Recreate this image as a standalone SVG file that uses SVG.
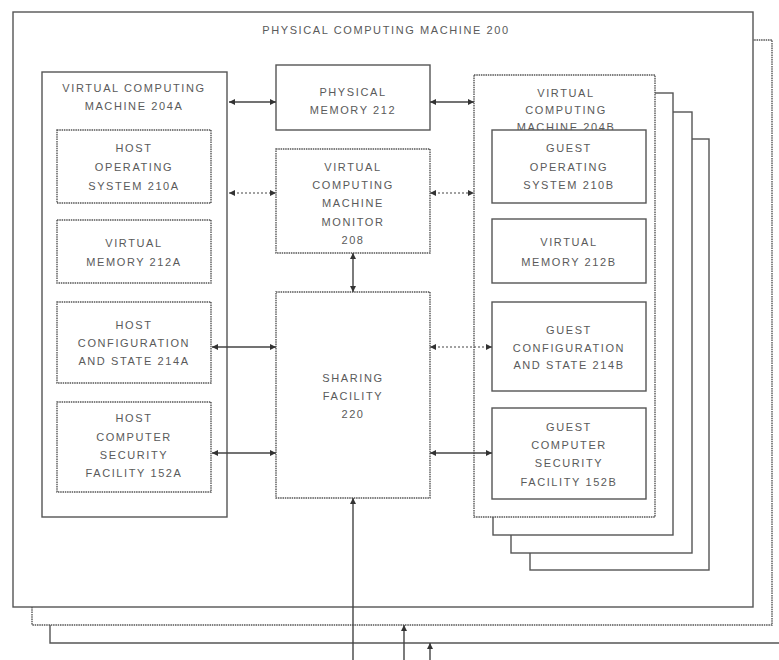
<svg xmlns="http://www.w3.org/2000/svg" width="779" height="660" viewBox="0 0 779 660">
  <style>
    .box { fill: #fff; stroke: #555; stroke-width: 1.4; }
    .dot { fill: #fff; stroke: #555; stroke-width: 1.4; stroke-dasharray: 1.5 0.8; }
    .lbl { font-family: "Liberation Sans", Arial, sans-serif; font-size: 11px; letter-spacing: 1.6px; fill: #5a5a5a; text-anchor: middle; }
    .solid { stroke: #444; stroke-width: 1.4; fill: none; }
    .dash { stroke: #444; stroke-width: 1.2; fill: none; stroke-dasharray: 2 2; }
  </style>
  <defs>
    <marker id="ah" viewBox="0 0 10 10" refX="10" refY="5" markerWidth="6" markerHeight="6" markerUnits="userSpaceOnUse" orient="auto-start-reverse">
      <path d="M0,0 L10,5 L0,10 z" fill="#333"/>
    </marker>
  </defs>

  <!-- stacked physical machines (back to front) -->
  <g id="pcm-stack-3">
    <path class="box" d="M50,623 L50,643 L779,643" fill="none"/>
  </g>
  <g id="pcm-stack-2">
    <rect class="dot" x="32" y="40" width="740" height="585"/>
  </g>
  <g id="pcm-200">
    <rect class="box" x="13" y="12" width="740" height="595"/>
    <text class="lbl" x="386" y="34">PHYSICAL COMPUTING MACHINE 200</text>
  </g>

  <!-- virtual computing machine 204A -->
  <g id="vcm-204a">
    <rect class="box" x="42" y="72" width="185" height="445"/>
    <text class="lbl" x="134" y="92">VIRTUAL COMPUTING</text>
    <text class="lbl" x="134" y="110">MACHINE 204A</text>
  </g>
  <g id="host-os-210a">
    <rect class="dot" x="57" y="130" width="154" height="73"/>
    <text class="lbl" x="134" y="152">HOST</text>
    <text class="lbl" x="134" y="171">OPERATING</text>
    <text class="lbl" x="134" y="190">SYSTEM 210A</text>
  </g>
  <g id="vmem-212a">
    <rect class="dot" x="57" y="220" width="154" height="63"/>
    <text class="lbl" x="134" y="247">VIRTUAL</text>
    <text class="lbl" x="134" y="266">MEMORY 212A</text>
  </g>
  <g id="host-config-214a">
    <rect class="dot" x="57" y="302" width="154" height="81"/>
    <text class="lbl" x="134" y="329">HOST</text>
    <text class="lbl" x="134" y="347">CONFIGURATION</text>
    <text class="lbl" x="134" y="365">AND STATE 214A</text>
  </g>
  <g id="host-security-152a">
    <rect class="dot" x="57" y="402" width="154" height="90"/>
    <text class="lbl" x="134" y="422">HOST</text>
    <text class="lbl" x="134" y="441">COMPUTER</text>
    <text class="lbl" x="134" y="459">SECURITY</text>
    <text class="lbl" x="134" y="477">FACILITY 152A</text>
  </g>

  <!-- center column -->
  <g id="phys-mem-212">
    <rect class="box" x="276" y="65" width="154" height="65"/>
    <text class="lbl" x="353" y="96">PHYSICAL</text>
    <text class="lbl" x="353" y="114">MEMORY 212</text>
  </g>
  <g id="vcm-monitor-208">
    <rect class="dot" x="276" y="149" width="154" height="104"/>
    <text class="lbl" x="353" y="171">VIRTUAL</text>
    <text class="lbl" x="353" y="189">COMPUTING</text>
    <text class="lbl" x="353" y="207">MACHINE</text>
    <text class="lbl" x="353" y="226">MONITOR</text>
    <text class="lbl" x="353" y="244">208</text>
  </g>
  <g id="sharing-220">
    <rect class="dot" x="276" y="292" width="154" height="206"/>
    <text class="lbl" x="353" y="382">SHARING</text>
    <text class="lbl" x="353" y="400">FACILITY</text>
    <text class="lbl" x="353" y="418">220</text>
  </g>

  <!-- virtual computing machines 204B stack -->
  <g id="vcm-204b-stack">
    <rect class="box" x="530" y="139" width="179" height="431"/>
    <rect class="box" x="511" y="112" width="181" height="441"/>
    <rect class="box" x="493" y="93" width="180" height="442"/>
  </g>
  <g id="vcm-204b">
    <rect class="dot" x="474" y="75" width="181" height="442"/>
    <text class="lbl" x="566" y="97">VIRTUAL</text>
    <text class="lbl" x="566" y="114">COMPUTING</text>
    <text class="lbl" x="566" y="131">MACHINE 204B</text>
  </g>
  <g id="guest-os-210b">
    <rect class="box" x="492" y="130" width="154" height="73"/>
    <text class="lbl" x="569" y="152">GUEST</text>
    <text class="lbl" x="569" y="171">OPERATING</text>
    <text class="lbl" x="569" y="189">SYSTEM 210B</text>
  </g>
  <g id="vmem-212b">
    <rect class="box" x="492" y="219" width="154" height="64"/>
    <text class="lbl" x="569" y="246">VIRTUAL</text>
    <text class="lbl" x="569" y="266">MEMORY 212B</text>
  </g>
  <g id="guest-config-214b">
    <rect class="box" x="492" y="302" width="154" height="89"/>
    <text class="lbl" x="569" y="334">GUEST</text>
    <text class="lbl" x="569" y="352">CONFIGURATION</text>
    <text class="lbl" x="569" y="369">AND STATE 214B</text>
  </g>
  <g id="guest-security-152b">
    <rect class="box" x="492" y="408" width="154" height="91"/>
    <text class="lbl" x="569" y="431">GUEST</text>
    <text class="lbl" x="569" y="449">COMPUTER</text>
    <text class="lbl" x="569" y="467">SECURITY</text>
    <text class="lbl" x="569" y="486">FACILITY 152B</text>
  </g>

  <!-- connectors -->
  <g id="connectors">
    <line class="solid" x1="229" y1="102" x2="276" y2="102" marker-start="url(#ah)" marker-end="url(#ah)"/>
    <line class="dash" x1="229" y1="193" x2="276" y2="193" marker-start="url(#ah)" marker-end="url(#ah)"/>
    <line class="solid" x1="212" y1="347" x2="276" y2="347" marker-start="url(#ah)" marker-end="url(#ah)"/>
    <line class="solid" x1="212" y1="453" x2="276" y2="453" marker-start="url(#ah)" marker-end="url(#ah)"/>
    <line class="solid" x1="430" y1="102" x2="474" y2="102" marker-start="url(#ah)" marker-end="url(#ah)"/>
    <line class="dash" x1="430" y1="193" x2="474" y2="193" marker-start="url(#ah)" marker-end="url(#ah)"/>
    <line class="dash" x1="430" y1="347" x2="492" y2="347" marker-start="url(#ah)" marker-end="url(#ah)"/>
    <line class="solid" x1="430" y1="453" x2="492" y2="453" marker-start="url(#ah)" marker-end="url(#ah)"/>
    <line class="solid" x1="353" y1="253" x2="353" y2="292" marker-start="url(#ah)" marker-end="url(#ah)"/>
    <line class="solid" x1="353" y1="660" x2="353" y2="498" stroke-width="1" marker-end="url(#ah)"/>
    <line class="solid" x1="404" y1="660" x2="404" y2="625" stroke-width="1" marker-end="url(#ah)"/>
    <line class="solid" x1="430" y1="660" x2="430" y2="643" stroke-width="1" marker-end="url(#ah)"/>
  </g>
</svg>
